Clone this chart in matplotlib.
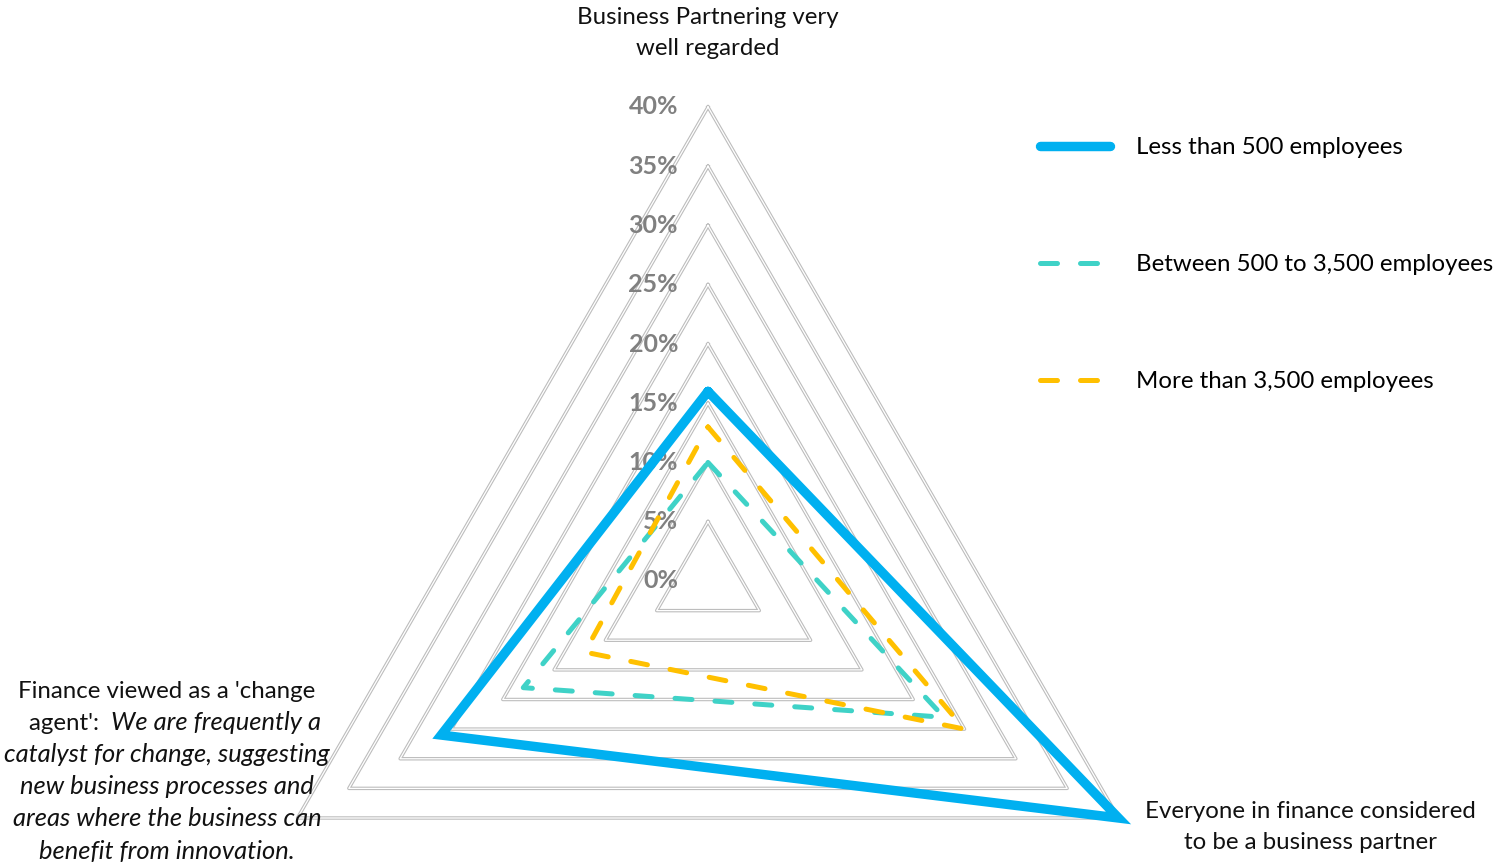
import numpy as np
import matplotlib
matplotlib.use('Agg')
import matplotlib.pyplot as plt

plt.rcParams['font.family'] = ['Lato', 'DejaVu Sans']

# data
top_label = 'Business Partnering very\nwell regarded'
right_label = 'Everyone in finance considered\nto be a business partner'
left_plain = ["Finance viewed as a 'change", "agent':  "]
left_italic = ['We are frequently a', 'catalyst for change, suggesting',
               'new business processes and', 'areas where the business can',
               'benefit from innovation.']
series_names = ['Less than 500 employees', 'Between 500 to 3,500 employees',
                'More than 3,500 employees']
less_than_500 = [16, 40, 26]
between_500_3500 = [10, 23, 18]
more_than_3500 = [13, 25, 12]
ticks = [0, 5, 10, 15, 20, 25, 30, 35, 40]

W, H = 1496, 864
fig = plt.figure(figsize=(W / 100, H / 100), dpi=100)

# polar axes centred on the radar, radius = 40%
cx, cy, R = 708, 581, 474
ax = fig.add_axes([(cx - R) / W, (H - cy - R) / H, 2 * R / W, 2 * R / H], projection='polar')
ax.set_theta_offset(np.pi / 2)
ax.set_theta_direction(-1)
ax.set_ylim(0, 40)
ax.grid(False)
ax.set_xticks([])
ax.set_yticks([])
ax.spines['polar'].set_visible(False)
ax.patch.set_visible(False)

angles = np.linspace(0, 2 * np.pi, 3, endpoint=False)
closed = np.append(angles, angles[0])

# triangular gridlines (grey edge, white core)
for v in ticks[1:]:
    ax.plot(closed, [v] * 4, color='#bdbdbd', lw=2.5, zorder=1, clip_on=False)
    ax.plot(closed, [v] * 4, color='white', lw=0.9, zorder=1.1, clip_on=False)

# radial tick labels
for v in ticks:
    ax.annotate(f'{v}%', xy=(0, v), xytext=(-30, 0), textcoords='offset pixels',
                ha='right', va='center', color='#808080', fontsize=18,
                fontweight='bold', zorder=2, annotation_clip=False)

dash = (0, (3.4, 4.6))
handles = []
for vals, col, lw, ls in [(less_than_500, '#00B0F0', 6.8, '-'),
                          (between_500_3500, '#3FD2C7', 3.6, dash),
                          (more_than_3500, '#FFC000', 3.6, dash)]:
    line, = ax.plot(closed, vals + vals[:1], color=col, lw=lw, ls=ls,
                    dash_capstyle='round', solid_capstyle='round',
                    solid_joinstyle='miter', zorder=3, clip_on=False)
    handles.append(line)

fs = 17.3
fs_it = 18.4
fig.legend(handles, series_names, loc='upper left',
           bbox_to_anchor=(1040 / W, 1 - 137 / H), frameon=False, fontsize=fs,
           handlelength=2.9, handletextpad=1.1, labelspacing=4.0,
           borderpad=0, borderaxespad=0)

# category labels
fig.text(708 / W, 1 - 33 / H, top_label, ha='center', va='center', fontsize=fs,
         linespacing=1.62, color='#111111')
fig.text(1310 / W, 1 - 827 / H, right_label, ha='center', va='center', fontsize=fs,
         linespacing=1.62, color='#111111')

lx = 167
line_y = [691, 723, 755, 787, 819, 851]
fig.text(lx / W, 1 - line_y[0] / H, left_plain[0], ha='center', va='center',
         fontsize=fs, color='#111111')
# second line mixes plain and italic text
renderer = fig.canvas.get_renderer()
t1 = fig.text(0, 1 - line_y[1] / H, left_plain[1], ha='left', va='center',
              fontsize=fs, color='#111111')
t2 = fig.text(0, 1 - line_y[1] / H, left_italic[0], ha='left', va='center',
              fontsize=fs_it, style='italic', color='#111111')
w1 = t1.get_window_extent(renderer).width
w2 = t2.get_window_extent(renderer).width
x0 = 175 - (w1 + w2) / 2
t1.set_x(x0 / W)
t2.set_x((x0 + w1) / W)
for txt, y in zip(left_italic[1:], line_y[2:]):
    fig.text(lx / W, 1 - y / H, txt, ha='center', va='center', fontsize=fs_it,
             style='italic', color='#111111')

fig.savefig('out.png', dpi=100)
